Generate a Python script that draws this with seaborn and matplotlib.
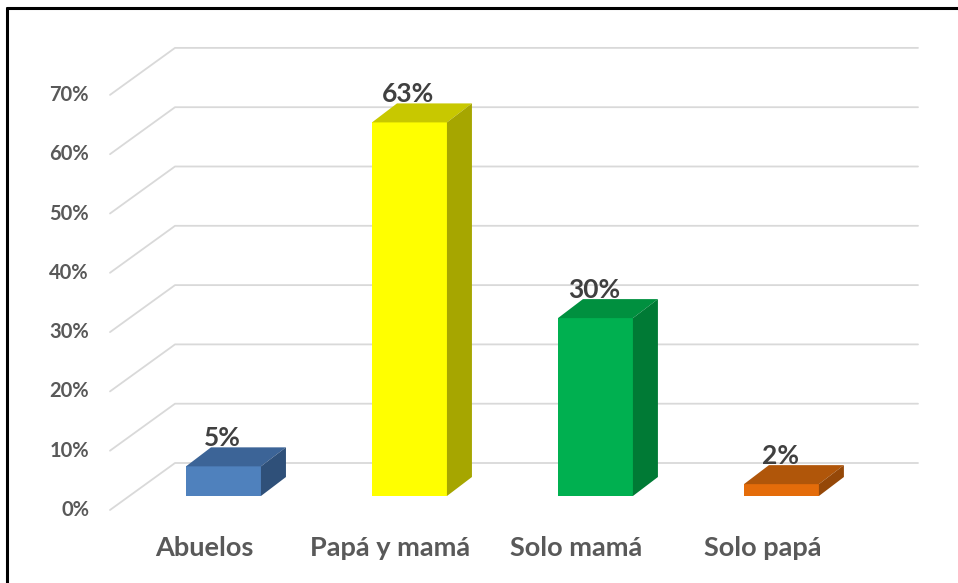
import matplotlib
matplotlib.use("Agg")
import matplotlib.pyplot as plt
import seaborn as sns
import pandas as pd
from matplotlib.patches import Polygon
from matplotlib.lines import Line2D

# ---- data ----
categories = ["Abuelos", "Papá y mamá", "Solo mamá", "Solo papá"]
values = [0.05, 0.63, 0.30, 0.02]
value_labels = ["5%", "63%", "30%", "2%"]
tick_values = [0.0, 0.1, 0.2, 0.3, 0.4, 0.5, 0.6, 0.7]
tick_labels = ["0%", "10%", "20%", "30%", "40%", "50%", "60%", "70%"]
front_colors = ["#4f81bd", "#ffff00", "#00b050", "#e46c0a"]
top_colors = ["#3c6497", "#c8c800", "#00903f", "#b0560a"]
side_colors = ["#2f5079", "#a6a600", "#007a35", "#954808"]

sns.set_style("white")
plt.rcParams["font.family"] = ["Lato", "DejaVu Sans"]

W, H = 958, 583
fig = plt.figure(figsize=(W / 100, H / 100), dpi=100)
fig.patch.set_facecolor("white")

# axes = the plane of the bar fronts (pixel geometry)
left_px, right_px = 129, 872
bottom_px, top_px = 496, 33
ax = fig.add_axes([left_px / W, (H - bottom_px) / H,
                   (right_px - left_px) / W, (bottom_px - top_px) / H])
ax.set_facecolor("none")

df = pd.DataFrame({"cat": categories, "val": values})
sns.barplot(data=df, x="cat", y="val", hue="cat", palette=front_colors,
            width=0.403, legend=False, ax=ax, saturation=1, zorder=3,
            linewidth=0, edgecolor="none")
ax.set_xlim(-0.508, 3.487)
ax.set_ylim(0, (bottom_px - top_px) / 593.0)
for s in ax.spines.values():
    s.set_visible(False)
ax.set_xticks([])
ax.set_yticks([])
ax.set_xlabel("")
ax.set_ylabel("")

fig.canvas.draw()
tD = ax.transData
inv = tD.inverted()


def pt(x, y, dx=0.0, dy=0.0):
    px, py = tD.transform((x, y))
    return inv.transform((px + dx, py + dy))


x0, x1 = ax.get_xlim()
FRONT = (-19, -14)
BACK = (46, 33)
DEPTH = (25, 19)

# gridlines (front diagonal + back wall)
for v, lab in zip(tick_values, tick_labels):
    a = pt(x0, v, *FRONT)
    b = pt(x0, v, *BACK)
    c = pt(x1, v, *BACK)
    ax.add_line(Line2D([a[0], b[0], c[0]], [a[1], b[1], c[1]],
                       color="#d9d9d9", lw=1.3, zorder=1, clip_on=False))
    lx, ly = tD.transform((x0, v))
    fig.text(89 / W, (ly + FRONT[1]) / H, lab,
             ha="right", va="center", fontsize=14.5, fontweight="bold",
             color="#595959")

# 3D faces
for i, p in enumerate(ax.patches):
    xl = p.get_x()
    xr = xl + p.get_width()
    h = p.get_height()
    top = Polygon([pt(xl, h), pt(xr, h), pt(xr, h, *DEPTH), pt(xl, h, *DEPTH)],
                  closed=True, facecolor=top_colors[i], edgecolor="none",
                  zorder=3, clip_on=False)
    side = Polygon([pt(xr, 0), pt(xr, h), pt(xr, h, *DEPTH), pt(xr, 0, *DEPTH)],
                   closed=True, facecolor=side_colors[i], edgecolor="none",
                   zorder=3, clip_on=False)
    ax.add_patch(top)
    ax.add_patch(side)
    cx = xl + p.get_width() / 2
    lp = pt(cx, h, -1, DEPTH[1] + 1)
    ax.text(lp[0], lp[1], value_labels[i], ha="center", va="baseline",
            fontsize=19, fontweight="bold", color="#404040", zorder=5,
            clip_on=False)
    cp = pt(cx, 0, FRONT[0], FRONT[1] - 38)
    ax.text(cp[0], cp[1], categories[i], ha="center", va="center",
            fontsize=19.5, fontweight="bold", color="#595959", clip_on=False)

# outer frame (top and left edges)
fig.add_artist(Line2D([7 / W, 1.0], [1 - 8 / H, 1 - 8 / H], color="black",
                      lw=2.2, transform=fig.transFigure))
fig.add_artist(Line2D([7 / W, 7 / W], [0, 1 - 8 / H], color="black",
                      lw=2.2, transform=fig.transFigure))

fig.savefig("out.png", dpi=100)
